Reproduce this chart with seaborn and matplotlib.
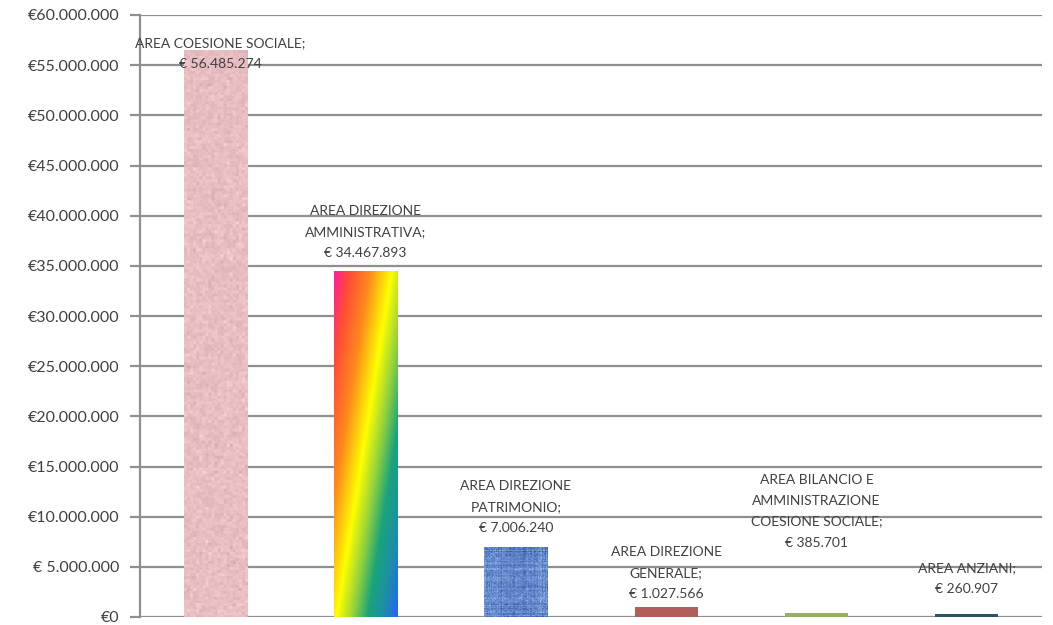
import numpy as np
import pandas as pd
import matplotlib
matplotlib.use("Agg")
import matplotlib.pyplot as plt
from matplotlib.colors import LinearSegmentedColormap
from matplotlib.ticker import FixedLocator, FixedFormatter
import seaborn as sns

# Budget by area (euro)
areas = [
    "AREA COESIONE SOCIALE",
    "AREA DIREZIONE AMMINISTRATIVA",
    "AREA DIREZIONE PATRIMONIO",
    "AREA DIREZIONE GENERALE",
    "AREA BILANCIO E AMMINISTRAZIONE COESIONE SOCIALE",
    "AREA ANZIANI",
]
label_lines = [
    "AREA COESIONE SOCIALE;",
    "AREA DIREZIONE\nAMMINISTRATIVA;",
    "AREA DIREZIONE\nPATRIMONIO;",
    "AREA DIREZIONE\nGENERALE;",
    "AREA BILANCIO E\nAMMINISTRAZIONE\nCOESIONE SOCIALE;",
    "AREA ANZIANI;",
]
amounts = [56485274, 34467893, 7006240, 1027566, 385701, 260907]

y_ticks = [0, 5e6, 10e6, 15e6, 20e6, 25e6, 30e6, 35e6, 40e6, 45e6, 50e6, 55e6, 60e6]
y_tick_labels = ["€0", "€ 5.000.000", "€10.000.000", "€15.000.000", "€20.000.000",
                 "€25.000.000", "€30.000.000", "€35.000.000", "€40.000.000",
                 "€45.000.000", "€50.000.000", "€55.000.000", "€60.000.000"]

df = pd.DataFrame({"area": areas, "importo": amounts})

sns.set_theme(style="white")
plt.rcParams["font.family"] = ["Lato", "DejaVu Sans"]

TEXT = "#404040"
GRID = "#8f8f8f"

fig = plt.figure(figsize=(10.53, 6.25), dpi=100)
ax = fig.add_axes([140 / 1053, 1 - 617 / 625, 902 / 1053, 602 / 625])

base_colors = ["#e8bec2", "#ff9a1a", "#6b8fd0", "#c0504d", "#9bbb59", "#215968"]
sns.barplot(data=df, x="area", y="importo", hue="area", palette=base_colors,
            width=0.42, legend=False, ax=ax, zorder=3, edgecolor="none",
            linewidth=0)

ax.set_xlim(-0.5, len(areas) - 0.5)
ax.set_ylim(0, 60e6)

# Fill effects clipped to the bar shapes
rng = np.random.default_rng(7)
patches = ax.patches


def overlay(patch, img):
    x0, y0 = patch.get_x(), patch.get_y()
    w, h = patch.get_width(), patch.get_height()
    im = ax.imshow(img, extent=(x0, x0 + w, y0, y0 + h), origin="upper",
                   aspect="auto", interpolation="bilinear", zorder=4)
    im.set_clip_path(patch)


# pink marble
p = patches[0]
hpx, wpx = 566, 63
noise = rng.normal(0, 1, (hpx // 3 + 1, wpx // 3 + 1))
noise = np.kron(noise, np.ones((3, 3)))[:hpx, :wpx]
noise += 0.6 * rng.normal(0, 1, (hpx, wpx))
base = np.array([232, 190, 194]) / 255
img = np.clip(base[None, None, :] + 0.018 * noise[:, :, None] * np.array([1, 1.3, 1.3]), 0, 1)
overlay(p, img)

# diagonal rainbow
p = patches[1]
hpx, wpx = 345, 63
yy, xx = np.mgrid[0:hpx, 0:wpx]
t = (xx + 0.157 * yy) / (wpx + 0.157 * hpx)
rainbow = LinearSegmentedColormap.from_list("rainbow_fill", [
    (0.0, "#ff1e9c"), (0.12, "#ff4a38"), (0.3, "#ff8a1c"), (0.48, "#ffff00"),
    (0.62, "#8fd040"), (0.74, "#1aa47a"), (0.87, "#1c8ea8"), (1.0, "#2a60ff")])
overlay(p, rainbow(t))

# blue denim
p = patches[2]
hpx, wpx = 70, 63
yy, xx = np.mgrid[0:hpx, 0:wpx]
weave = 0.5 * np.sin(xx * 2.1) * np.sin(yy * 1.9)
noise = weave + 0.8 * rng.normal(0, 1, (hpx, wpx))
streak = rng.normal(0, 1, (hpx, 1)) * 0.5 + rng.normal(0, 1, (1, wpx)) * 0.5
noise = noise + streak
base = np.array([105, 140, 205]) / 255
img = np.clip(base[None, None, :] + 0.09 * noise[:, :, None] * np.array([1, 0.9, 0.6]), 0, 1)
overlay(p, img)

ax.set_xlim(-0.5, len(areas) - 0.5)
ax.set_ylim(0, 60e6)

# axes styling
ax.yaxis.set_major_locator(FixedLocator(y_ticks))
ax.yaxis.set_major_formatter(FixedFormatter(y_tick_labels))
ax.grid(axis="y", color=GRID, linewidth=1.6, zorder=0)
ax.set_axisbelow(True)
for side in ["top", "right", "bottom"]:
    ax.spines[side].set_visible(False)
ax.spines["left"].set_color(GRID)
ax.spines["left"].set_linewidth(1.6)
ax.tick_params(axis="y", which="major", length=7, width=1.6, color=GRID,
               pad=8, labelsize=11.5, labelcolor=TEXT, left=True)
ax.tick_params(axis="x", bottom=False, labelbottom=False)
ax.set_xlabel("")
ax.set_ylabel("")

# data labels: (x offset px, y offset px of block centre above the bar top)
offsets = [(5, -3), (0, 39), (0, 40), (0, 34), (0, 102), (0, 36)]
for i, (txt, val) in enumerate(zip(label_lines, amounts)):
    value_txt = "€ " + f"{val:,}".replace(",", ".")
    dx, dy = offsets[i]
    ax.annotate(txt + "\n" + value_txt, xy=(i, val), xytext=(dx, dy),
                textcoords="offset pixels", ha="center", va="center",
                multialignment="center", fontsize=10, color=TEXT,
                linespacing=1.9, zorder=6, annotation_clip=False)

fig.savefig("out.png", dpi=100)
